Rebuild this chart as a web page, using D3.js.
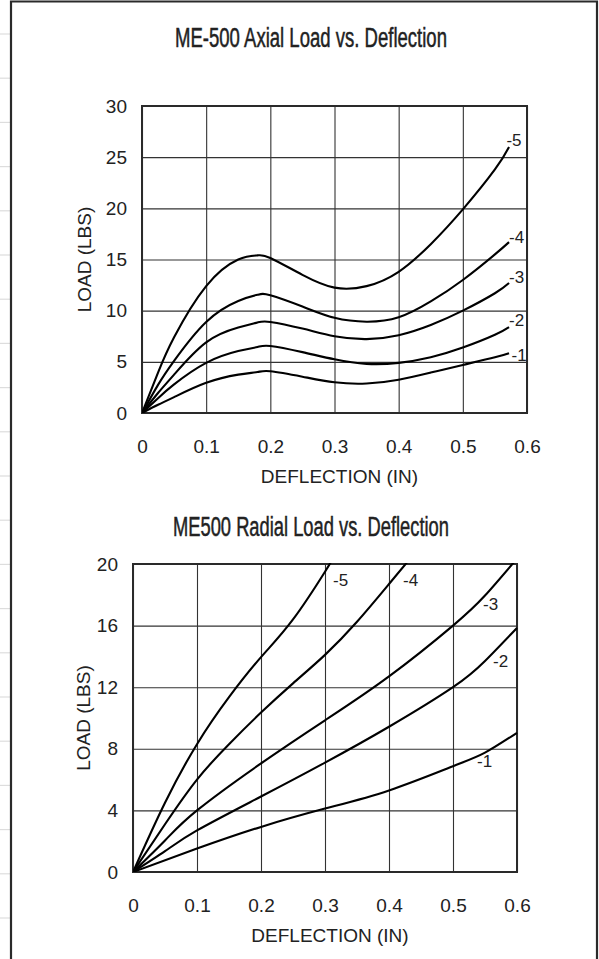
<!DOCTYPE html>
<html>
<head>
<meta charset="utf-8">
<script src="https://cdn.jsdelivr.net/npm/d3@7/dist/d3.min.js"></script>
<style>
  body { margin: 0; background: #fff; }
  svg { display: block; }
  .tick text { font-family: "Liberation Sans", Arial, Helvetica, sans-serif; font-size: 19px; fill: #222; }
  .lbl { font-family: "Liberation Sans", Arial, Helvetica, sans-serif; fill: #222; }
</style>
</head>
<body>
<div id="chart"></div>
<script>
// axial load chart: deflection (in) vs load (lbs), one series per spring size
var axialDefl = [0, 0.025, 0.05, 0.1, 0.15, 0.18, 0.2, 0.25, 0.3, 0.35, 0.4, 0.45, 0.5, 0.55, 0.572];
var axial5 = [0, 3.95, 7.4, 12.4, 15.0, 15.4, 15.15, 13.5, 12.25, 12.4, 13.8, 16.5, 19.9, 23.8, 26.0];
var axial4 = [0, 2.75, 5.1, 8.9, 10.95, 11.55, 11.5, 10.4, 9.3, 8.92, 9.35, 10.9, 13.0, 15.5, 16.7];
var axial3 = [0, 1.95, 3.75, 6.9, 8.35, 8.85, 8.9, 8.25, 7.5, 7.22, 7.6, 8.6, 10.0, 11.7, 12.7];
var axial2 = [0, 1.45, 2.8, 4.9, 6.05, 6.45, 6.55, 5.95, 5.25, 4.8, 4.9, 5.45, 6.4, 7.65, 8.4];
var axial1 = [0, 0.8, 1.55, 2.95, 3.75, 4.0, 4.08, 3.55, 3.0, 2.88, 3.25, 3.95, 4.7, 5.45, 5.85];
var axialNames = ["-5", "-4", "-3", "-2", "-1"];
var axialLabelAt = [[0.568, 26.7], [0.572, 17.2], [0.572, 13.3], [0.572, 9.1], [0.576, 5.7]];
var axialYTicks = [0, 5, 10, 15, 20, 25, 30];

// radial load chart
var radial5x = [0, 0.05, 0.1, 0.15, 0.2, 0.25, 0.3, 0.31];
var radial5y = [0, 4.5, 8.3, 11.35, 13.95, 16.4, 19.5, 20.2];
var radial4x = [0, 0.05, 0.1, 0.15, 0.2, 0.25, 0.3, 0.35, 0.4, 0.43];
var radial4y = [0, 3.1, 6.0, 8.3, 10.35, 12.25, 14.1, 16.25, 18.7, 20.2];
var radial3x = [0, 0.05, 0.1, 0.2, 0.3, 0.4, 0.5, 0.55, 0.6];
var radial3y = [0, 2.05, 4.0, 7.05, 9.85, 12.7, 16.0, 17.95, 20.35];
var radial2x = [0, 0.05, 0.1, 0.2, 0.3, 0.4, 0.5, 0.55, 0.6];
var radial2y = [0, 1.35, 2.7, 4.9, 7.1, 9.43, 12.0, 13.7, 15.85];
var radial1x = [0, 0.1, 0.2, 0.3, 0.4, 0.5, 0.55, 0.6];
var radial1y = [0, 1.52, 2.93, 4.12, 5.3, 6.87, 7.75, 9.04];
var radialNames = ["-5", "-4", "-3", "-2", "-1"];
var radialLabelAt = [[0.3125, 19.0], [0.422, 19.0], [0.547, 17.4], [0.5625, 13.7], [0.5375, 7.2]];
var radialYTicks = [0, 4, 8, 12, 16, 20];

var xTicks = [0, 0.1, 0.2, 0.3, 0.4, 0.5, 0.6];

var svg = d3.select("#chart").append("svg")
    .attr("width", 599)
    .attr("height", 959);

// faint marks left of the frame
svg.selectAll(".edge")
    .data(d3.range(34, 959, 44.2))
  .enter().append("line")
    .attr("x1", 0).attr("x2", 10)
    .attr("y1", function (d) { return d; })
    .attr("y2", function (d) { return d; })
    .style("stroke", "#ddd")
    .style("stroke-width", 1.2);

// frame
svg.append("path")
    .attr("d", "M11,959 V1.5 H597 V959")
    .style("fill", "none")
    .style("stroke", "#2a2a2a")
    .style("stroke-width", 2.2);

function drawChart(opt) {
    var x = d3.scaleLinear().domain([0, 0.6]).range([opt.left, opt.right]);
    var y = d3.scaleLinear().domain([0, opt.yMax]).range([opt.bottom, opt.top]);
    var w = opt.right - opt.left, h = opt.bottom - opt.top;

    // title (condensed face faked with textLength)
    svg.append("text")
        .attr("class", "lbl")
        .attr("x", opt.titleX)
        .attr("y", opt.titleY)
        .attr("text-anchor", "middle")
        .attr("textLength", opt.titleW)
        .attr("lengthAdjust", "spacingAndGlyphs")
        .style("font-size", "27px")
        .style("stroke", "#222")
        .style("stroke-width", 0.5)
        .text(opt.title);

    var gx = svg.append("g")
        .attr("transform", "translate(0," + opt.bottom + ")")
        .call(d3.axisBottom(x).tickValues(xTicks).tickSize(-h).tickPadding(27)
            .tickFormat(function (d) { return d === 0 ? "0" : d3.format(".1f")(d); }));
    gx.select(".domain").remove();

    var gy = svg.append("g")
        .attr("transform", "translate(" + opt.left + ",0)")
        .call(d3.axisLeft(y).tickValues(opt.yTicks).tickSize(-w).tickPadding(15));
    gy.select(".domain").remove();

    svg.selectAll(".tick line").style("stroke", "#333").style("stroke-width", 1.1);

    svg.append("rect")
        .attr("x", opt.left).attr("y", opt.top)
        .attr("width", w).attr("height", h)
        .style("fill", "none")
        .style("stroke", "#2a2a2a")
        .style("stroke-width", 2);

    var clipId = "clip" + opt.top;
    svg.append("clipPath").attr("id", clipId)
      .append("rect")
        .attr("x", opt.left).attr("y", opt.top - 1)
        .attr("width", w + 1).attr("height", h + 1);

    var line = d3.line()
        .x(function (d) { return x(d[0]); })
        .y(function (d) { return y(d[1]); })
        .curve(d3.curveNatural);

    svg.append("g").attr("clip-path", "url(#" + clipId + ")")
      .selectAll("path")
        .data(opt.series)
      .enter().append("path")
        .attr("d", line)
        .style("fill", "none")
        .style("stroke", "#000")
        .style("stroke-width", 2.1);

    svg.selectAll(".cl" + opt.top)
        .data(opt.labelAt)
      .enter().append("text")
        .attr("class", "lbl")
        .attr("x", function (d) { return x(d[0]); })
        .attr("y", function (d) { return y(d[1]); })
        .attr("dy", "0.36em")
        .style("font-size", "17px")
        .text(function (d, i) { return opt.names[i]; });

    svg.append("text")
        .attr("class", "lbl")
        .attr("x", opt.left + w / 2 + 5)
        .attr("y", opt.bottom + 70)
        .attr("text-anchor", "middle")
        .style("font-size", "19px")
        .text("DEFLECTION (IN)");

    svg.append("text")
        .attr("class", "lbl")
        .attr("transform", "translate(" + (opt.left - opt.yTitleOff) + "," + (opt.top + h / 2) + ") rotate(-90)")
        .attr("text-anchor", "middle")
        .style("font-size", "19px")
        .text("LOAD (LBS)");
}

function zip(xs, ys) {
    return xs.map(function (v, i) { return [v, ys[i]]; });
}

drawChart({
    title: "ME-500 Axial Load vs. Deflection",
    titleX: 311, titleY: 47, titleW: 272,
    left: 142, right: 527, top: 106, bottom: 413,
    yMax: 30, yTicks: axialYTicks, yTitleOff: 51,
    series: [axial5, axial4, axial3, axial2, axial1].map(function (s) { return zip(axialDefl, s); }),
    names: axialNames, labelAt: axialLabelAt
});

drawChart({
    title: "ME500 Radial Load vs. Deflection",
    titleX: 311, titleY: 536, titleW: 276,
    left: 133, right: 517, top: 564, bottom: 872,
    yMax: 20, yTicks: radialYTicks, yTitleOff: 43,
    series: [zip(radial5x, radial5y), zip(radial4x, radial4y), zip(radial3x, radial3y),
             zip(radial2x, radial2y), zip(radial1x, radial1y)],
    names: radialNames, labelAt: radialLabelAt
});
</script>
</body>
</html>
